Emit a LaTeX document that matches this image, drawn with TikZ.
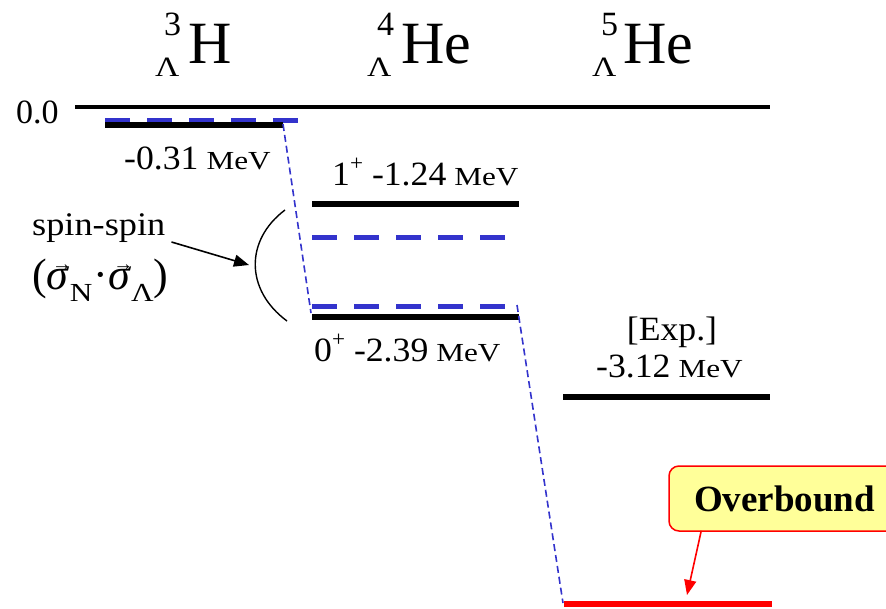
\documentclass[tikz,border=0pt]{standalone}
\usepackage{fontspec}
\usepackage{graphicx}
\setmainfont{Liberation Serif}
\newfontfamily\numfam[FakeStretch=1.05]{Liberation Serif}
\newfontfamily\spinfam[FakeStretch=1.1]{Liberation Serif}
\newfontfamily\mevfam[FakeStretch=1.2]{Liberation Serif}
\newfontfamily\lamfam[FakeStretch=1.2]{Liberation Serif}
\usetikzlibrary{arrows.meta}
\definecolor{lvblue}{RGB}{51,51,204}
\definecolor{obyellow}{RGB}{255,255,153}
\definecolor{obred}{RGB}{255,0,0}
\newcommand\lblfont{\numfam\fontsize{34}{34}\selectfont}
\newcommand\mevu{{\mevfam\fontsize{26}{26}\selectfont MeV}}
\newcommand\parity{\raisebox{0.42em}{\fontsize{22}{22}\selectfont +}}
\newcommand\vsig{\rlap{\kern0.12em\raisebox{0.42em}{\fontsize{20}{20}\selectfont →}}\textit{σ}}
\newcommand\subsc[1]{\lower12pt\hbox{\lamfam\fontsize{26}{26}\selectfont #1}}
\tikzset{
  txt/.style={inner sep=0pt, anchor=base west, font=\lblfont},
  ttl/.style={inner sep=0pt, anchor=base west, font=\rmfamily\fontsize{60}{60}\selectfont},
  ttlnum/.style={inner sep=0pt, anchor=base west, font=\rmfamily\fontsize{34}{34}\selectfont},
  ttllam/.style={inner sep=0pt, anchor=base west, font=\lamfam\fontsize{28}{28}\selectfont},
  blackline/.style={line width=5.5pt},
  zeroline/.style={line width=4pt},
  bdash/.style={draw=lvblue, line width=5pt, dash pattern=on 24.5pt off 17.5pt},
  conn/.style={draw=lvblue, line width=1.6pt, dash pattern=on 7pt off 4pt},
  sarrow/.style={line width=1.6pt, -{Triangle[length=15pt,width=12pt]}},
  rarrow/.style={draw=obred, line width=1.6pt, -{Triangle[length=15pt,width=12pt]}},
  obbox/.style={draw=obred, line width=1.5pt, fill=obyellow, rounded corners=10pt,
    minimum width=231pt, minimum height=65pt, inner sep=0pt,
    font=\rmfamily\bfseries\fontsize{37}{37}\selectfont},
}
\begin{document}
\begin{tikzpicture}[x=1pt,y=-1pt]
\useasboundingbox (0,0) rectangle (886,608);
% titles
\node[ttlnum] (t3n) at (164,35) {3};
\node[ttllam] (t3l) at (155,76) {Λ};
\node[ttl] (t3) at (188,63) {H};
\node[ttlnum] (t4n) at (377,35) {4};
\node[ttllam] (t4l) at (367,76) {Λ};
\node[ttl] (t4) at (401,63) {He};
\node[ttlnum] (t5n) at (601,35) {5};
\node[ttllam] (t5l) at (592,76) {Λ};
\node[ttl] (t5) at (623,63) {He};
% zero line
\node[txt, font=\rmfamily\fontsize{34}{34}\selectfont] (zero) at (16,123) {0.0};
\coordinate (z0) at (75,107);
\coordinate (z1) at (770,107);
\draw[zeroline] (z0) -- (z1);
% 3H level
\coordinate (h3a) at (105,125);
\coordinate (h3b) at (283,125);
\coordinate (h3c) at (105,120);
\coordinate (h3d) at (299,120);
\draw[bdash] (h3c) -- (h3d);
\draw[blackline] (h3a) -- (h3b);
\node[txt] (l031) at (124,169) {-0.31\kern8pt\mevu};
% 4He levels
\coordinate (p1a) at (312,204);
\coordinate (p1b) at (519,204);
\draw[blackline] (p1a) -- (p1b);
\coordinate (d1a) at (312,237);
\coordinate (d1b) at (505,237);
\draw[bdash] (d1a) -- (d1b);
\coordinate (d0a) at (312,306);
\coordinate (d0b) at (505,306);
\draw[bdash] (d0a) -- (d0b);
\coordinate (p0a) at (312,317);
\coordinate (p0b) at (519,317);
\draw[blackline] (p0a) -- (p0b);
\node[txt] (l124) at (332,185) {1\parity\ -1.24\kern8pt\mevu};
\node[txt] (l239) at (314,361) {0\parity\ -2.39\kern8pt\mevu};
% 5He levels
\coordinate (ea) at (563,397);
\coordinate (eb) at (770,397);
\draw[blackline] (ea) -- (eb);
\node[txt, anchor=base] (lexp) at (672,340) {[Exp.]};
\node[txt] (l312) at (596,377) {-3.12\kern8pt\mevu};
\coordinate (ra) at (564,604);
\coordinate (rb) at (772,604);
\draw[line width=6pt, obred] (ra) -- (rb);
% connectors
\coordinate (c1s) at (283,124);
\coordinate (c1e) at (311,313);
\draw[conn] (c1s) -- (c1e);
\coordinate (c2s) at (517,305);
\coordinate (c2e) at (563,603);
\draw[conn] (c2s) -- (c2e);
% spin-spin
\node[txt, font=\spinfam\fontsize{33}{33}\selectfont] (spin) at (32,235) {spin-spin};
\node[inner sep=0pt, anchor=base west, font=\rmfamily\fontsize{44}{44}\selectfont] (sig) at (32,289)
  {(\vsig\subsc{N}\kern1pt·\vsig\subsc{Λ})};
\coordinate (bt) at (285,210);
\coordinate (bb) at (287,321);
\draw[line width=1.4pt] (bt) .. controls (245,240) and (245,290) .. (bb);
\coordinate (bkt) at (249,265);
\draw[sarrow] ([shift={(6,7)}]spin.base east) -- (bkt);
% overbound
\begin{scope}
\clip (0,0) rectangle (886,608);
\node[obbox] (ob) at (784.5,498.5) {Overbound};
\end{scope}
\coordinate (obt) at (687,595);
\draw[rarrow] ([shift={(33,-1)}]ob.south west) -- (obt);
\end{tikzpicture}
\end{document}
